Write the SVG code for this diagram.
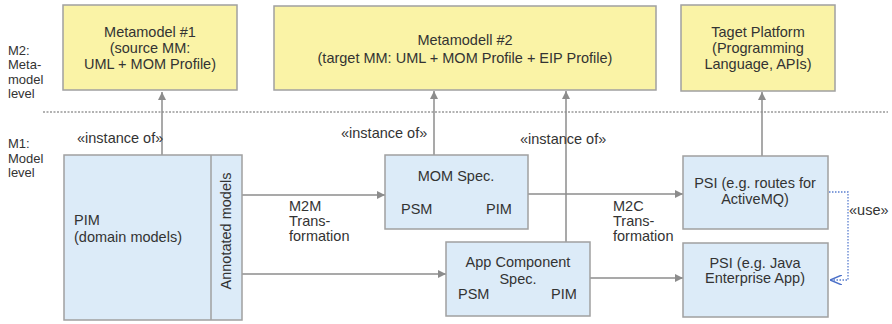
<svg xmlns="http://www.w3.org/2000/svg" width="892" height="324" viewBox="0 0 892 324">
  <style>
    text { font-family: "Liberation Sans", Arial, sans-serif; font-size: 14.5px; fill: #333; }
    .lvl { font-size: 13px; }
    .mm { fill: #faf3a6; stroke: #a0a0a0; stroke-width: 1.5; }
    .m1 { fill: #dcebf8; stroke: #a0a0a0; stroke-width: 1.5; }
    .c { text-anchor: middle; }
    .conn { fill: none; stroke: #8c8c8c; stroke-width: 1.5; }
    .use { fill: none; stroke: #5b7fd0; stroke-width: 1.3; stroke-dasharray: 1.5 1.5; }
  </style>
  <defs>
    <marker id="tri" viewBox="0 0 8 8" refX="8" refY="4" markerWidth="8" markerHeight="8" markerUnits="userSpaceOnUse" orient="auto">
      <path d="M0,0 L8,4 L0,8 z" fill="#8c8c8c"/>
    </marker>
    <marker id="open" viewBox="0 0 12 10" refX="12" refY="5" markerWidth="12" markerHeight="10" markerUnits="userSpaceOnUse" orient="auto">
      <path d="M0,0 L12,5 L0,10" fill="none" stroke="#4a6fc8" stroke-width="1.5"/>
    </marker>
  </defs>

  <!-- level labels and separator -->
  <g id="levels">
    <text class="lvl" x="8" y="54.5">M2:</text>
    <text class="lvl" x="8" y="69">Meta-</text>
    <text class="lvl" x="8" y="83.5">model</text>
    <text class="lvl" x="8" y="98">level</text>
    <text class="lvl" x="8" y="148">M1:</text>
    <text class="lvl" x="8" y="162.5">Model</text>
    <text class="lvl" x="8" y="177">level</text>
    <line x1="43" y1="112" x2="888" y2="112" stroke="#666" stroke-width="1.2" stroke-dasharray="2 1.5"/>
  </g>

  <!-- connectors -->
  <g id="connectors">
    <line class="conn" x1="162" y1="155" x2="162" y2="92" marker-end="url(#tri)"/>
    <line class="conn" x1="434" y1="155" x2="434" y2="91" marker-end="url(#tri)"/>
    <line class="conn" x1="566" y1="242" x2="566" y2="91" marker-end="url(#tri)"/>
    <line class="conn" x1="762" y1="156" x2="762" y2="92" marker-end="url(#tri)"/>
    <line class="conn" x1="242" y1="195" x2="385" y2="195" marker-end="url(#tri)"/>
    <line class="conn" x1="242" y1="274" x2="446" y2="274" marker-end="url(#tri)"/>
    <line class="conn" x1="528" y1="194" x2="683" y2="194" marker-end="url(#tri)"/>
    <line class="conn" x1="590" y1="278" x2="683" y2="278" marker-end="url(#tri)"/>
    <polyline class="use" points="829,192 848,192 848,280 830,280" marker-end="url(#open)"/>
    <text x="77" y="143">«instance of»</text>
    <text x="341" y="138">«instance of»</text>
    <text x="520" y="144">«instance of»</text>
    <text x="289" y="211">M2M</text>
    <text x="289" y="226">Trans-</text>
    <text x="289" y="241">formation</text>
    <text x="613" y="211">M2C</text>
    <text x="613" y="226">Trans-</text>
    <text x="613" y="241">formation</text>
    <text x="849" y="215">«use»</text>
  </g>

  <g id="metamodel1">
    <rect class="mm" x="63" y="5" width="174" height="85"/>
    <text class="c" x="150" y="36.5">Metamodel #1</text>
    <text class="c" x="150" y="52.5">(source MM:</text>
    <text class="c" x="150" y="68.5">UML + MOM Profile)</text>
  </g>

  <g id="metamodel2">
    <rect class="mm" x="274" y="6" width="382" height="84"/>
    <text class="c" x="465" y="45">Metamodell #2</text>
    <text class="c" x="465" y="63">(target MM: UML + MOM Profile + EIP Profile)</text>
  </g>

  <g id="target-platform">
    <rect class="mm" x="681" y="5" width="154" height="86"/>
    <text class="c" x="758" y="37">Taget Platform</text>
    <text class="c" x="758" y="53">(Programming</text>
    <text class="c" x="758" y="68.5">Language, APIs)</text>
  </g>

  <g id="pim">
    <rect class="m1" x="64" y="155" width="178" height="165"/>
    <line x1="211" y1="155" x2="211" y2="320" stroke="#a0a0a0" stroke-width="1.5"/>
    <text x="74" y="225">PIM</text>
    <text x="74" y="242">(domain models)</text>
    <text class="c" transform="translate(231,231) rotate(-90)">Annotated models</text>
  </g>

  <g id="mom-spec">
    <rect class="m1" x="385" y="155" width="143" height="74"/>
    <text class="c" x="456" y="181">MOM Spec.</text>
    <text x="401" y="214">PSM</text>
    <text x="486" y="214">PIM</text>
  </g>

  <g id="app-component-spec">
    <rect class="m1" x="446" y="242" width="144" height="74"/>
    <text class="c" x="518" y="267">App Component</text>
    <text class="c" x="518" y="284">Spec.</text>
    <text x="458" y="299">PSM</text>
    <text x="551" y="299">PIM</text>
  </g>

  <g id="psi-activemq">
    <rect class="m1" x="683" y="156" width="145" height="73"/>
    <text class="c" x="755" y="188">PSI (e.g. routes for</text>
    <text class="c" x="755" y="204">ActiveMQ)</text>
  </g>

  <g id="psi-java">
    <rect class="m1" x="683" y="243" width="145" height="74"/>
    <text class="c" x="755" y="268">PSI (e.g. Java</text>
    <text class="c" x="755" y="283">Enterprise App)</text>
  </g>
</svg>
